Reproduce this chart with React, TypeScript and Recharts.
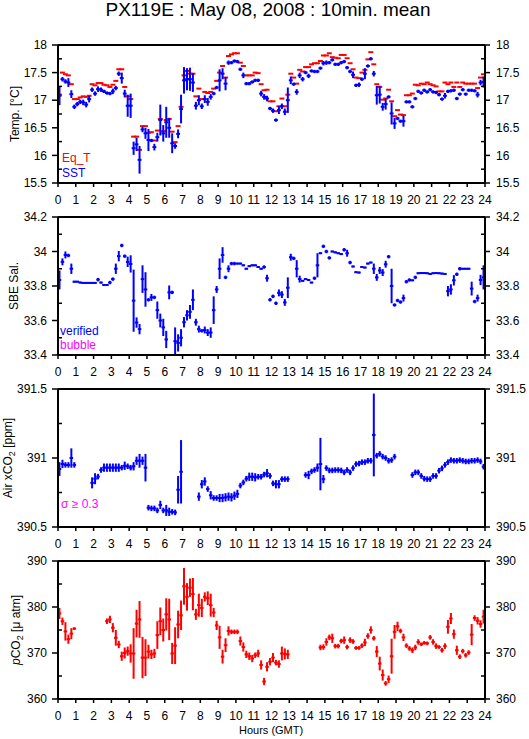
import React from "react";
import { ComposedChart, ErrorBar, Scatter, XAxis, YAxis } from "recharts";

const FONT = '"Liberation Sans", Arial, Helvetica, sans-serif';
const BLUE = "#0000ff";
const RED = "#ff0000";
const MAGENTA = "#ff00ff";
const N = null;

const HOUR_TICKS = [0, 1, 2, 3, 4, 5, 6, 7, 8, 9, 10, 11, 12, 13, 14, 15, 16, 17, 18, 19, 20, 21, 22, 23, 24];
// 10 min means, plotted at the centre of each bin
const BIN_HOURS = Array.from({ length: 144 }, (_, k) => (k + 0.5) / 6);

// one row per hour, six 10-min values
const EQ_T = [
  17.1, 17.5, 17.47, 17.45, 17.29, 17.02,
  17.02, 17.05, 17.07, 17.06, 17.08, 17.29,
  17.27, 17.31, 17.31, 17.28, 17.27, 17.24,
  17.28, 17.35, 17.56, 17.56, 17.24, 17.07,
  17.02, 16.34, 16.34, 16.1, 16.53, 16.53,
  16.41, 16.42, 16.27, 16.45, 16.66, 16.44,
  16.64, 16.66, 16.43, 16.24, 16.53, 16.88,
  17.45, 17.53, 17.48, 17.48, 17.07, 17.21,
  17.02, 17.15, 17.13, 17.15, 17.21, 17.35,
  17.5, 17.62, 17.41, 17.8, 17.83, 17.85,
  17.85, 17.68, 17.62, 17.45, 17.45, 17.45,
  17.5, 17.49, 17.29, 17.18, 17.19, 16.98,
  16.98, 16.8, 16.89, 17.03, 16.89, 17.1,
  17.48, 17.41, 17.3, 17.55, 17.52, 17.6,
  17.6, 17.65, 17.67, 17.67, 17.71, 17.81,
  17.81, 17.85, 17.78, 17.77, 17.76, 17.82,
  17.82, 17.76, 17.67, 17.56, 17.41, 17.4,
  17.5, 17.55, 17.74, 17.87, 17.65, 17.29,
  17.24, 17.01, 17.03, 17.19, 16.98, 16.71,
  16.82, 16.74, 16.73, 17.09, 17.09, 17.12,
  17.28, 17.27, 17.3, 17.29, 17.32, 17.29,
  17.27, 17.25, 17.16, 17.16, 17.32, 17.29,
  17.32, 17.24, 17.32, 17.24, 17.32, 17.3,
  17.3, 17.3, 17.3, 17.22, 17.41, 17.47,
];

const SST = [
  17.08, 17.38, 17.34, 17.32, 17.11, 16.88,
  16.93, 16.97, 16.96, 16.92, 17.02, 17.19,
  17.12, 17.2, 17.19, 17.16, 17.13, 17.12,
  17.16, 17.22, 17.48, 17.4, 17.12, 16.9,
  16.9, 16.13, 16.2, 15.92, 16.47, 16.4,
  16.28, 16.27, 16.15, 16.33, 16.64, 16.4,
  16.6, 16.5, 16.22, 16.17, 16.39, 16.84,
  17.36, 17.38, 17.38, 17.32, 16.9, 17.0,
  16.89, 17.02, 16.97, 17.06, 17.12, 17.23,
  17.36, 17.48, 17.3, 17.68, 17.68, 17.71,
  17.7, 17.56, 17.45, 17.3, 17.3, 17.33,
  17.36, 17.36, 17.12, 17.06, 17.03, 16.85,
  16.81, 16.64, 16.82, 16.89, 16.79, 17.0,
  17.36, 17.29, 17.15, 17.45, 17.38, 17.5,
  17.44, 17.53, 17.52, 17.52, 17.58, 17.67,
  17.68, 17.68, 17.73, 17.65, 17.65, 17.68,
  17.7, 17.59, 17.52, 17.46, 17.27, 17.28,
  17.38, 17.48, 17.62, 17.75, 17.48, 17.09,
  17.1, 16.88, 16.93, 17.06, 16.76, 16.58,
  16.67, 16.62, 16.62, 16.97, 16.97, 16.88,
  17.03, 17.16, 17.13, 17.18, 17.15, 17.19,
  17.15, 17.14, 17.1, 17.02, 17.08, 17.16,
  17.17, 17.18, 17.03, 17.11, 17.19, 17.11,
  17.18, 17.18, 17.17, 17.1, 17.32, 17.33,
];

const SST_ERR = [
  0.17, 0.04, 0.04, 0.08, 0.07, 0.04,
  0.04, 0.04, 0.05, 0.05, 0.06, 0.04,
  0.04, 0.05, 0.04, 0.03, 0.03, 0.03,
  0.05, 0.04, 0.04, 0.1, 0.07, 0.2,
  0.22, 0.12, 0.12, 0.25, 0.05, 0.1,
  0.2, 0.03, 0.06, 0.08, 0.28, 0.15,
  0.28, 0.18, 0.18, 0.05, 0.08, 0.26,
  0.24, 0.2, 0.21, 0.17, 0.07, 0.09,
  0.05, 0.07, 0.07, 0.05, 0.03, 0.03,
  0.2, 0.1, 0.12, 0.04, 0.03, 0.03,
  0.03, 0.03, 0.05, 0.03, 0.03, 0.03,
  0.03, 0.03, 0.05, 0.05, 0.05, 0.03,
  0.04, 0.03, 0.07, 0.05, 0.06, 0.23,
  0.07, 0.03, 0.05, 0.05, 0.04, 0.03,
  0.04, 0.03, 0.03, 0.03, 0.03, 0.04,
  0.04, 0.03, 0.03, 0.03, 0.03, 0.03,
  0.03, 0.03, 0.03, 0.06, 0.03, 0.04,
  0.03, 0.1, 0.03, 0.03, 0.05, 0.17,
  0.16, 0.07, 0.1, 0.03, 0.2, 0.1,
  0.03, 0.03, 0.1, 0.03, 0.03, 0.03,
  0.03, 0.03, 0.03, 0.03, 0.03, 0.03,
  0.03, 0.03, 0.03, 0.03, 0.05, 0.03,
  0.03, 0.03, 0.03, 0.03, 0.03, 0.03,
  0.03, 0.03, 0.03, 0.05, 0.05, 0.1,
];

const SAL = [
  33.835, 33.94, 33.98, 33.977, 33.9, 33.825,
  33.825, 33.82, 33.818, 33.818, 33.818, 33.818,
  33.818, 33.837, 33.82, 33.806, 33.806, 33.82,
  33.84, 33.9, 33.973, 34.035, 33.973, 33.94,
  33.928, 33.715, 33.588, 33.55, 33.84, 33.78,
  33.72, 33.734, 33.734, 33.66, 33.6, 33.56,
  33.49, 33.763, 33.763, 33.48, 33.47, 33.5,
  33.59, 33.63, 33.65, 33.72, 33.59, 33.55,
  33.54, 33.545, 33.53, 33.53, 33.66, 33.78,
  33.9, 33.98, 33.85, 33.9, 33.93, 33.93,
  33.93, 33.93, 33.92, 33.9, 33.915, 33.92,
  33.92, 33.91, 33.9, 33.91, 33.845, 33.72,
  33.74, 33.7, 33.76, 33.75, 33.705, 33.79,
  33.967, 33.96, 33.9, 33.84, 33.83, 33.84,
  33.835, 33.82, 33.845, 33.92, 33.99, 34.03,
  34.0, 33.963, 34.0, 33.995, 33.99, 33.985,
  34.01, 33.99, 33.936, 33.913, 33.88, 33.878,
  33.91, 33.907, 33.93, 33.936, 33.9, 33.85,
  33.89, 33.878, 33.926, 33.97, 33.8, 33.69,
  33.716, 33.707, 33.73, 33.825, 33.835, 33.833,
  33.85, 33.874, 33.875, 33.875, 33.874, 33.87,
  33.874, 33.875, 33.874, 33.872, 33.87, 33.77,
  33.78, 33.833, 33.868, 33.9, 33.9, 33.9,
  33.9, 33.785, 33.71, 33.73, 33.835, 33.85,
];

const SAL_ERR = [
  0.055, 0.02, 0.02, 0.01, 0.03, 0.005,
  0.005, 0.005, 0.005, 0.005, 0.005, 0.005,
  0.005, 0.01, 0.005, 0.005, 0.005, 0.01,
  0.01, 0.03, 0.03, 0.01, 0.01, 0.03,
  0.05, 0.18, 0.03, 0.03, 0.08, 0.1,
  0.01, 0.02, 0.01, 0.05, 0.04, 0.05,
  0.05, 0.04, 0.01, 0.08, 0.05, 0.05,
  0.03, 0.03, 0.04, 0.06, 0.02, 0.02,
  0.01, 0.02, 0.02, 0.03, 0.08, 0.02,
  0.06, 0.045, 0.01, 0.02, 0.01, 0.01,
  0.005, 0.005, 0.005, 0.005, 0.005, 0.005,
  0.005, 0.005, 0.005, 0.01, 0.02, 0.01,
  0.01, 0.01, 0.02, 0.02, 0.02, 0.06,
  0.02, 0.01, 0.05, 0.02, 0.005, 0.005,
  0.005, 0.005, 0.01, 0.07, 0.005, 0.01,
  0.01, 0.01, 0.005, 0.005, 0.005, 0.005,
  0.01, 0.02, 0.01, 0.005, 0.005, 0.005,
  0.005, 0.005, 0.005, 0.005, 0.03, 0.02,
  0.02, 0.02, 0.02, 0.01, 0.1, 0.01,
  0.01, 0.01, 0.02, 0.01, 0.01, 0.005,
  0.01, 0.005, 0.005, 0.005, 0.005, 0.005,
  0.005, 0.005, 0.005, 0.005, 0.005, 0.03,
  0.03, 0.03, 0.01, 0.01, 0.005, 0.005,
  0.005, 0.04, 0.01, 0.02, 0.03, 0.07,
];

const XCO2 = [
  390.92, 390.957, 390.95, 390.95, 391.0, 390.95,
  N, N, N, N, N, 390.82,
  390.85, 390.865, 390.913, 390.93, 390.93, 390.93,
  390.93, 390.93, 390.93, 390.93, 390.944, 390.94,
  390.93, 390.94, 390.98, 390.98, 390.98, 390.93,
  390.64, 390.635, 390.635, 390.62, 390.66, 390.62,
  390.62, 390.61, 390.61, 390.606, 390.77, 390.9,
  N, N, N, N, N, 390.72,
  390.81, 390.83, 390.775, 390.73, 390.71, 390.71,
  390.71, 390.71, 390.715, 390.72, 390.715, 390.727,
  390.74, 390.8, 390.823, 390.85, 390.864, 390.864,
  390.86, 390.864, 390.864, 390.88, 390.89, 390.87,
  390.816, 390.81, 390.81, 390.847, 390.847, 390.847,
  N, N, N, N, N, 390.877,
  390.877, 390.903, 390.913, 390.93, 390.956, 390.847,
  390.927, 390.91, 390.91, 390.913, 390.913, 390.91,
  390.896, 390.913, 390.896, 390.927, 390.956, 390.96,
  390.97, 390.97, 390.98, 390.98, 391.167, 391.017,
  391.03, 391.01, 391.0, 390.98, 390.985, 391.01,
  N, N, N, N, N, 390.877,
  390.896, 390.896, 390.87, 390.85, 390.847, 390.847,
  390.87, 390.87, 390.908, 390.925, 390.95, 390.97,
  390.985, 390.98, 390.98, 390.985, 390.98, 390.975,
  390.975, 390.98, 390.98, 390.985, 390.975, 390.937,
];

const XCO2_ERR = [
  0.05, 0.03, 0.02, 0.02, 0.07, 0.02,
  N, N, N, N, N, 0.04,
  0.04, 0.02, 0.02, 0.03, 0.03, 0.03,
  0.03, 0.03, 0.03, 0.02, 0.03, 0.02,
  0.02, 0.03, 0.03, 0.05, 0.03, 0.1,
  0.02, 0.02, 0.02, 0.02, 0.03, 0.02,
  0.04, 0.03, 0.02, 0.02, 0.1, 0.23,
  N, N, N, N, N, 0.03,
  0.03, 0.03, 0.02, 0.03, 0.02, 0.02,
  0.03, 0.03, 0.03, 0.03, 0.03, 0.03,
  0.03, 0.02, 0.02, 0.02, 0.03, 0.03,
  0.03, 0.02, 0.02, 0.02, 0.03, 0.02,
  0.02, 0.03, 0.03, 0.02, 0.02, 0.02,
  N, N, N, N, N, 0.02,
  0.03, 0.02, 0.02, 0.03, 0.19, 0.03,
  0.02, 0.02, 0.02, 0.02, 0.02, 0.02,
  0.02, 0.02, 0.02, 0.02, 0.02, 0.02,
  0.02, 0.02, 0.02, 0.02, 0.3, 0.02,
  0.02, 0.02, 0.02, 0.02, 0.02, 0.02,
  N, N, N, N, N, 0.02,
  0.02, 0.02, 0.02, 0.02, 0.02, 0.02,
  0.02, 0.02, 0.02, 0.02, 0.02, 0.02,
  0.02, 0.02, 0.02, 0.02, 0.02, 0.02,
  0.02, 0.02, 0.02, 0.02, 0.02, 0.02,
];

const PCO2 = [
  378.6, 376.9, 374.7, 373.0, 374.2, 375.3,
  N, N, N, N, N, N,
  N, N, N, N, 376.9, 377.3,
  375.5, 373.3, 371.85, 369.3, 370.0, 370.4,
  369.9, 369.9, 376.4, 377.3, 369.0, 369.0,
  370.3, 369.7, 369.9, 373.9, 376.9, 375.0,
  378.4, 377.3, 369.9, 371.6, 376.2, 378.2,
  384.5, 382.2, 384.2, 382.8, 378.4, 380.4,
  379.8, 382.2, 381.9, 380.4, 378.8, 376.0,
  373.4, 369.2, 371.7, 374.8, 374.6, 374.6,
  374.6, 372.6, 371.3, 369.7, 369.3, 368.8,
  369.5, 369.9, 367.4, 363.8, 367.0, 368.1,
  369.0, 367.9, 367.6, 369.9, 369.8, 369.7,
  N, N, N, N, N, N,
  N, N, N, N, 371.2, 371.3,
  372.4, 373.4, 373.2, 371.5, 371.5, 372.6,
  372.8, 371.3, 372.8, 372.5, 371.1, 371.1,
  371.6, 372.3, 373.7, 375.0, 373.2, 370.3,
  367.7, 365.2, 363.4, 364.3, 369.3, 374.6,
  375.8, 374.8, 373.4, 371.6, 371.0, 370.6,
  371.2, 372.4, 371.9, 372.2, 372.1, 373.4,
  372.4, 371.5, 371.3, 370.6, 371.5, 375.7,
  377.5, 374.1, 370.6, 369.2, 370.4, 369.5,
  370.1, 374.0, 377.6, 377.0, 376.3, 377.9,
];

const PCO2_ERR = [
  1.2, 0.8, 2.0, 1.0, 1.2, 0.3,
  N, N, N, N, N, N,
  N, N, N, N, 0.6, 0.8,
  1.0, 1.7, 0.8, 1.0, 1.2, 1.0,
  2.0, 5.5, 3.0, 4.0, 4.5, 4.0,
  1.5, 1.0, 1.0, 3.0, 3.0, 2.5,
  3.5, 4.5, 2.3, 4.0, 3.0, 3.2,
  4.0, 3.0, 2.0, 3.5, 1.2, 2.5,
  2.0, 1.0, 1.5, 2.5, 1.0, 1.0,
  2.5, 1.5, 1.5, 1.0, 0.5, 0.5,
  0.5, 1.0, 1.0, 0.8, 0.8, 0.8,
  0.6, 0.8, 1.0, 0.8, 1.0, 0.8,
  1.0, 0.6, 0.8, 1.5, 1.2, 1.0,
  N, N, N, N, N, N,
  N, N, N, N, 0.6, 0.6,
  0.8, 0.6, 1.0, 0.5, 0.5, 0.5,
  0.8, 0.5, 0.6, 0.5, 0.4, 0.4,
  0.5, 0.8, 0.6, 0.8, 0.5, 1.2,
  1.5, 1.2, 0.5, 0.8, 3.8, 1.5,
  1.0, 0.5, 0.8, 0.5, 0.5, 0.6,
  0.6, 0.6, 0.4, 0.4, 0.4, 0.5,
  0.6, 0.6, 0.4, 0.5, 0.6, 1.5,
  1.2, 1.0, 1.0, 0.5, 0.5, 0.5,
  0.5, 2.3, 0.6, 0.8, 0.8, 1.5,
];

const TEMP_TICKS = [15.5, 16, 16.5, 17, 17.5, 18];
const TEMP_MINOR = [15.75, 16.25, 16.75, 17.25, 17.75];
const SAL_TICKS = [33.4, 33.6, 33.8, 34, 34.2];
const SAL_MINOR = [33.5, 33.7, 33.9, 34.1];
const XCO2_TICKS = [390.5, 391, 391.5];
const XCO2_MINOR = [390.75, 391.25];
const PCO2_TICKS = [360, 370, 380, 390];
const PCO2_MINOR = [365, 375, 385];

// layout
const W = 529;
const LEFT_W = 58;
const RIGHT_W = 44;
const TOP_AX = 8;
const BOT_AX = 30;
const PLOT_H = 138;
const PANEL_TOPS = [45, 217, 388.5, 560.5];

type Row = { h: number; v: number; e: number; xe: number };

function toRows(vals: (number | null)[], errs: (number | null)[] | null, xe: number): Row[] {
  const out: Row[] = [];
  vals.forEach((v, k) => {
    if (v == null) return;
    out.push({ h: BIN_HOURS[k], v, e: errs ? errs[k] ?? 0 : 0, xe });
  });
  return out;
}

type Series = { name: string; rows: Row[]; color: string; vertical: boolean };

const tickStyle = { fill: "#000", fontSize: 12, fontFamily: FONT };
const axisLine = { stroke: "#000", strokeWidth: 2 };
const tickLine = { stroke: "#000", strokeWidth: 1.5 };
const blank = () => "";

function Panel(props: {
  top: number;
  domain: [number, number];
  major: number[];
  minor: number[];
  series: Series[];
}) {
  const { top, domain, major, minor, series } = props;
  return (
    <div style={{ position: "absolute", left: 0, top: top - TOP_AX }}>
      <ComposedChart
        width={W}
        height={TOP_AX + PLOT_H + BOT_AX}
        margin={{ top: 0, right: 0, bottom: 0, left: 0 }}
      >
        <XAxis
          xAxisId="b"
          type="number"
          dataKey="h"
          domain={[0, 24]}
          ticks={HOUR_TICKS}
          interval={0}
          allowDataOverflow
          height={BOT_AX}
          tickSize={4}
          tickMargin={8}
          axisLine={axisLine}
          tickLine={tickLine}
          tick={tickStyle}
        />
        <XAxis
          xAxisId="t"
          orientation="top"
          type="number"
          domain={[0, 24]}
          ticks={HOUR_TICKS}
          interval={0}
          allowDataOverflow
          height={TOP_AX}
          tickSize={4}
          axisLine={axisLine}
          tickLine={tickLine}
          tickFormatter={blank}
        />
        <YAxis
          yAxisId="l"
          type="number"
          dataKey="v"
          domain={domain}
          ticks={major}
          interval={0}
          allowDataOverflow
          width={LEFT_W}
          tickSize={6}
          tickMargin={5}
          axisLine={axisLine}
          tickLine={tickLine}
          tick={tickStyle}
        />
        <YAxis
          yAxisId="r"
          orientation="right"
          type="number"
          domain={domain}
          ticks={major}
          interval={0}
          allowDataOverflow
          width={RIGHT_W}
          tickSize={5}
          tickMargin={6}
          axisLine={axisLine}
          tickLine={tickLine}
          tick={tickStyle}
        />
        <YAxis
          yAxisId="lm"
          mirror
          type="number"
          domain={domain}
          ticks={minor}
          interval={0}
          allowDataOverflow
          tickSize={4}
          axisLine={false}
          tickLine={tickLine}
          tickFormatter={blank}
        />
        <YAxis
          yAxisId="rm"
          orientation="right"
          mirror
          type="number"
          domain={domain}
          ticks={minor}
          interval={0}
          allowDataOverflow
          tickSize={4}
          axisLine={false}
          tickLine={tickLine}
          tickFormatter={blank}
        />
        {series.map((s) => (
          <Scatter
            key={s.name}
            name={s.name}
            data={s.rows}
            xAxisId="b"
            yAxisId="l"
            dataKey="v"
            shape={() => <g />}
            isAnimationActive={false}
          >
            <ErrorBar
              dataKey="xe"
              direction="x"
              width={0}
              stroke={s.color}
              strokeWidth={2}
              isAnimationActive={false}
            />
            {s.vertical && (
              <ErrorBar
                dataKey="e"
                direction="y"
                width={0}
                stroke={s.color}
                strokeWidth={2}
                isAnimationActive={false}
              />
            )}
          </Scatter>
        ))}
      </ComposedChart>
    </div>
  );
}

function Text(props: { left: number; top: number; color?: string; size?: number; children: React.ReactNode }) {
  const { left, top, color = "#000", size = 12, children } = props;
  return (
    <div
      style={{
        position: "absolute",
        left,
        top,
        color,
        fontFamily: FONT,
        fontSize: size,
        lineHeight: `${size}px`,
        whiteSpace: "nowrap",
      }}
    >
      {children}
    </div>
  );
}

function YTitle(props: { cx: number; cy: number; children: React.ReactNode }) {
  return (
    <div
      style={{
        position: "absolute",
        left: props.cx,
        top: props.cy,
        transform: "translate(-50%, -50%) rotate(-90deg)",
        fontFamily: FONT,
        fontSize: 12,
        lineHeight: "14px",
        whiteSpace: "nowrap",
        color: "#000",
      }}
    >
      {props.children}
    </div>
  );
}

export default function App() {
  const mid = (i: number) => PANEL_TOPS[i] + PLOT_H / 2;
  return (
    <div style={{ position: "absolute", left: 0, top: 0, width: W, height: 739, background: "#fff" }}>
      <div
        style={{
          position: "absolute",
          left: 268,
          top: 0,
          transform: "translateX(-50%)",
          fontFamily: FONT,
          fontSize: 19,
          lineHeight: "20px",
          whiteSpace: "nowrap",
        }}
      >
        PX119E : May 08, 2008 : 10min. mean
      </div>

      <Panel
        top={PANEL_TOPS[0]}
        domain={[15.5, 18]}
        major={TEMP_TICKS}
        minor={TEMP_MINOR}
        series={[
          { name: "Eq_T", rows: toRows(EQ_T, null, 0.14), color: RED, vertical: false },
          { name: "SST", rows: toRows(SST, SST_ERR, 0.11), color: BLUE, vertical: true },
        ]}
      />
      <Panel
        top={PANEL_TOPS[1]}
        domain={[33.4, 34.2]}
        major={SAL_TICKS}
        minor={SAL_MINOR}
        series={[{ name: "SBE Sal.", rows: toRows(SAL, SAL_ERR, 0.1), color: BLUE, vertical: true }]}
      />
      <Panel
        top={PANEL_TOPS[2]}
        domain={[390.5, 391.5]}
        major={XCO2_TICKS}
        minor={XCO2_MINOR}
        series={[{ name: "Air xCO2", rows: toRows(XCO2, XCO2_ERR, 0.1), color: BLUE, vertical: true }]}
      />
      <Panel
        top={PANEL_TOPS[3]}
        domain={[360, 390]}
        major={PCO2_TICKS}
        minor={PCO2_MINOR}
        series={[{ name: "pCO2", rows: toRows(PCO2, PCO2_ERR, 0.1), color: RED, vertical: true }]}
      />

      <YTitle cx={15} cy={mid(0)}>Temp. [°C]</YTitle>
      <YTitle cx={14} cy={mid(1)}>SBE Sal.</YTitle>
      <YTitle cx={10} cy={mid(2)}>
        Air xCO<sub style={{ fontSize: 9 }}>2</sub> [ppm]
      </YTitle>
      <YTitle cx={18} cy={mid(3)}>
        <i>p</i>CO<sub style={{ fontSize: 9 }}>2</sub> [μ atm]
      </YTitle>

      <Text left={62} top={152} color={RED}>Eq_T</Text>
      <Text left={62} top={166.5} color={BLUE}>SST</Text>
      <Text left={60} top={325} color={BLUE}>verified</Text>
      <Text left={60} top={339} color={MAGENTA}>bubble</Text>
      <Text left={61} top={498} color={MAGENTA}>σ ≥ 0.3</Text>

      <Text left={239} top={725} size={11}>Hours (GMT)</Text>
    </div>
  );
}
